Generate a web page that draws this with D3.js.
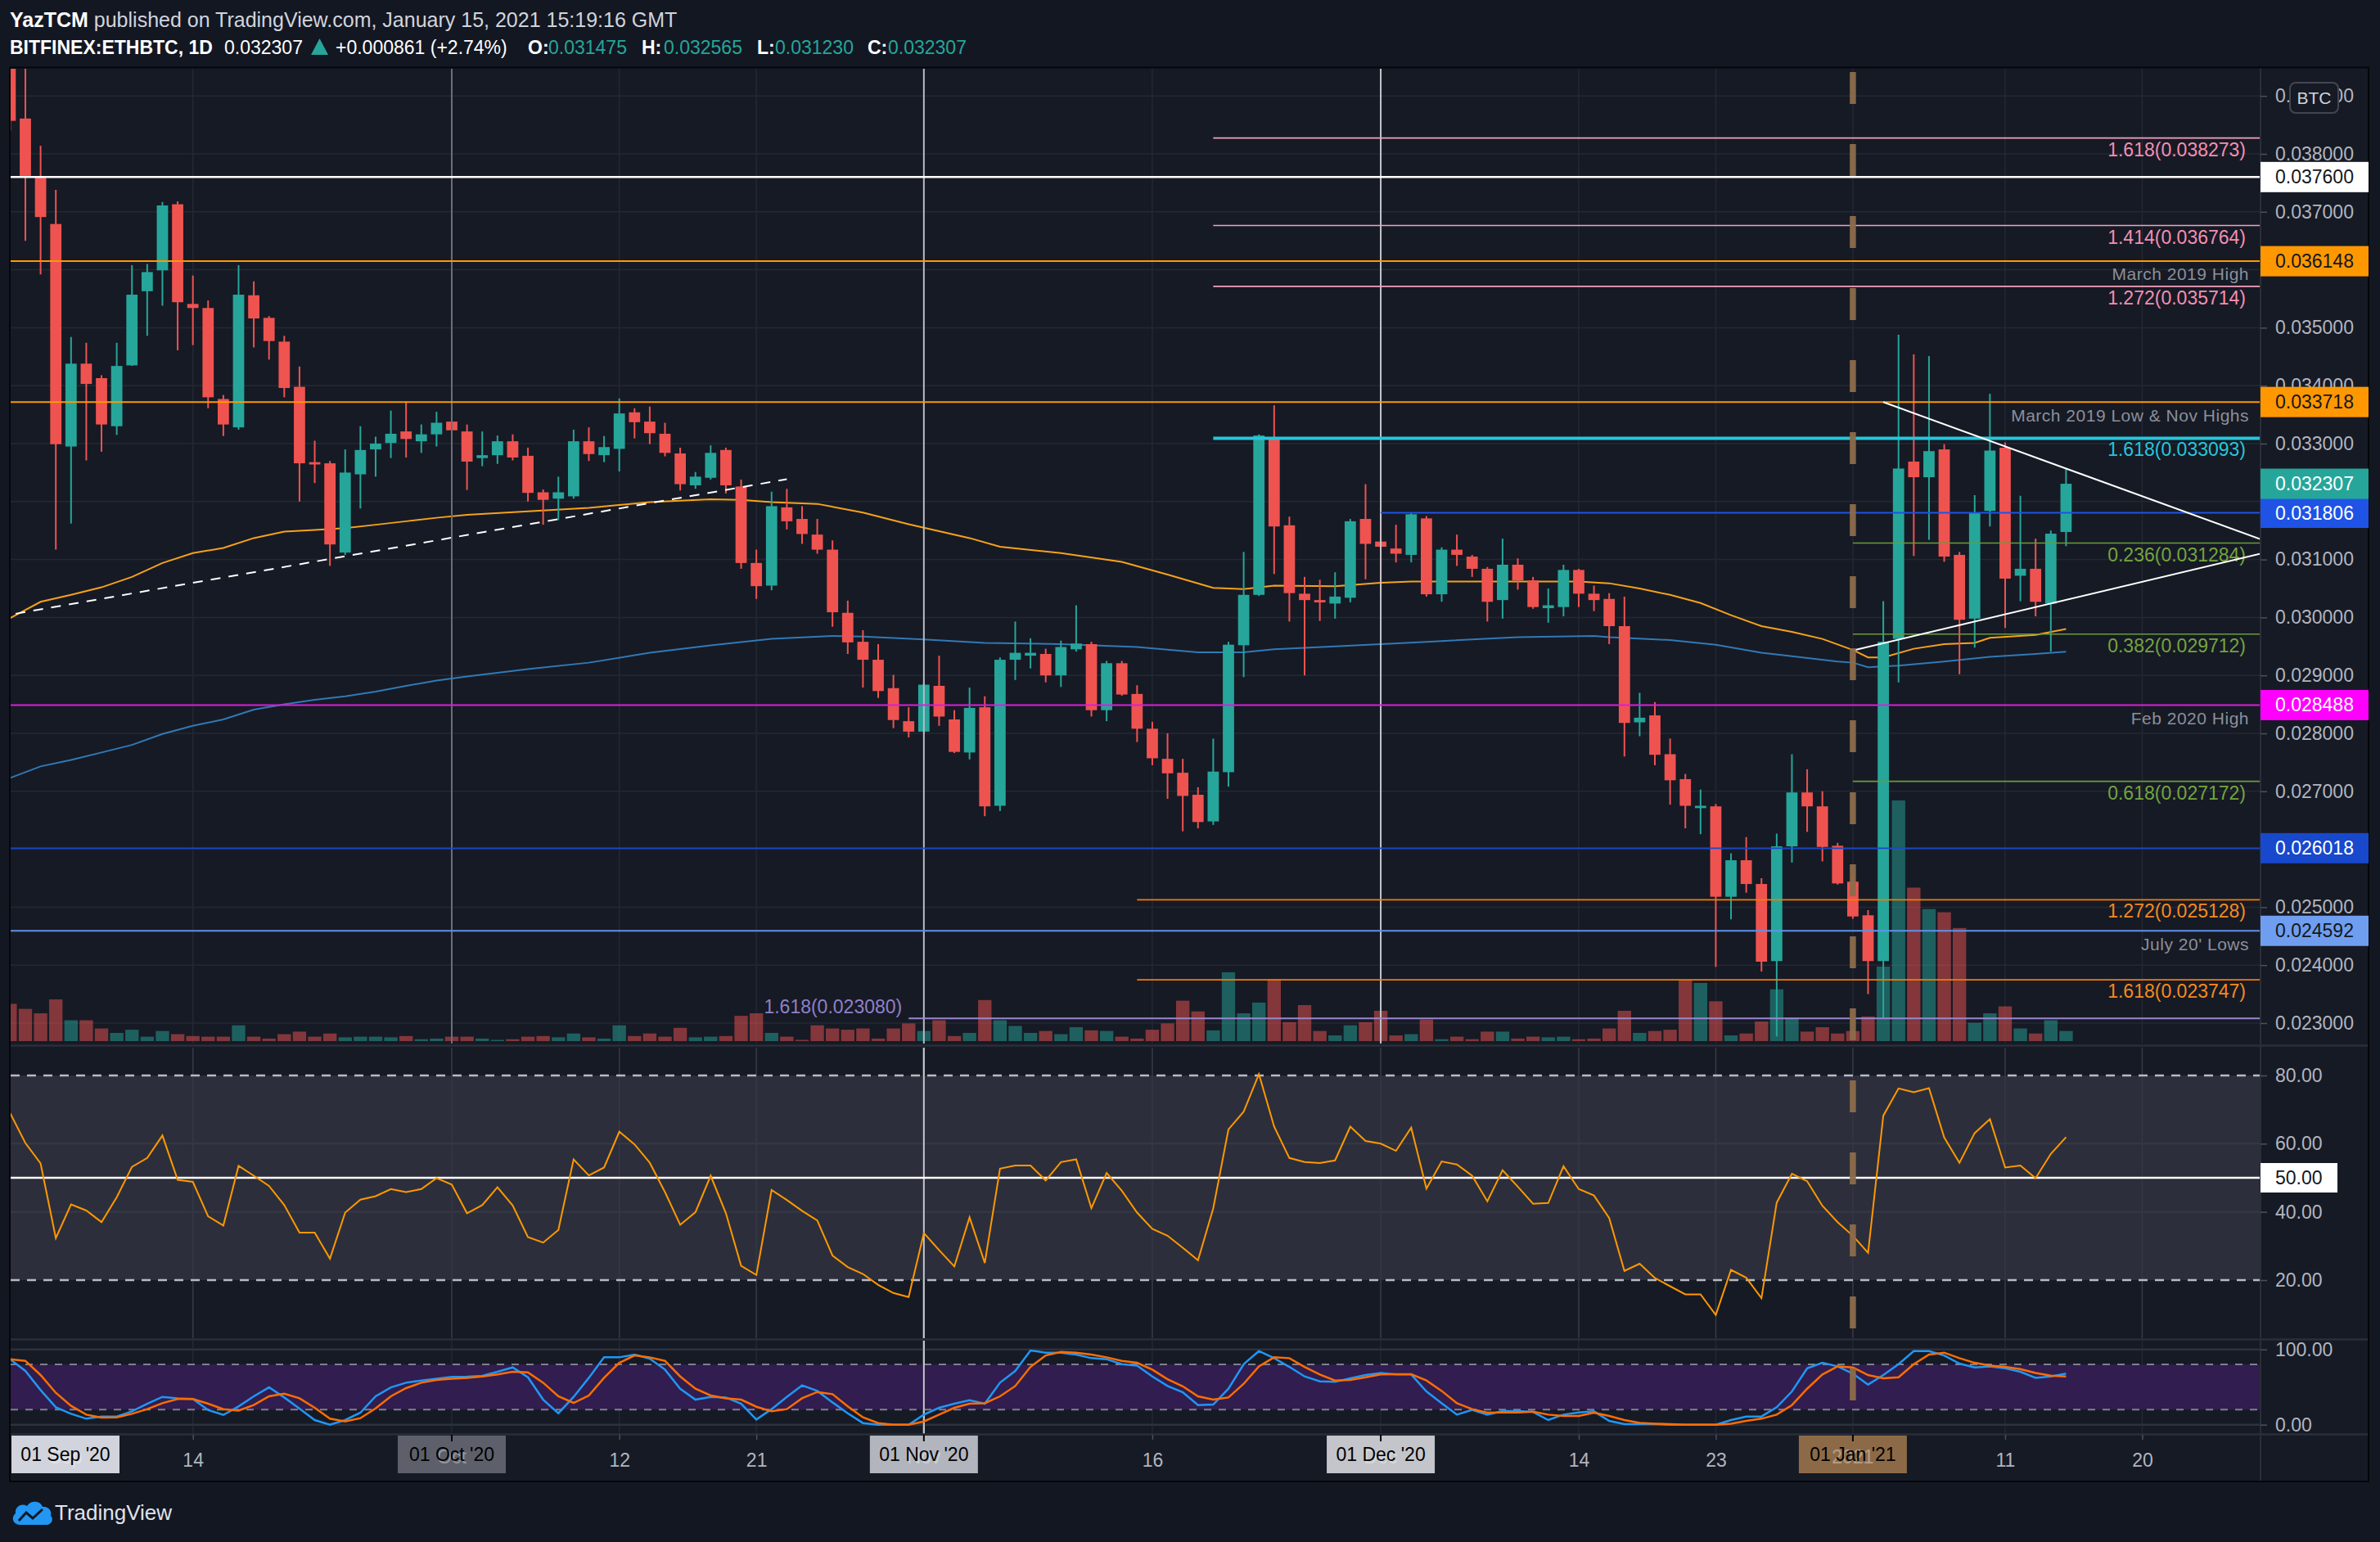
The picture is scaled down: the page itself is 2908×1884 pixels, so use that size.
<!DOCTYPE html>
<html>
<head>
<meta charset="utf-8">
<script src="https://cdn.jsdelivr.net/npm/d3@7/dist/d3.min.js"></script>
<style>
html,body{margin:0;padding:0;background:#131722;overflow:hidden;}
svg{display:block;}
</style>
</head>
<body>
<svg id="chart" width="2908" height="1884" xmlns="http://www.w3.org/2000/svg"></svg>
<script>
// ================= DATA =================
const firstDay = "2020-09-02";
const lastDay  = "2021-01-15";

const opens = [
0.04000,0.03861,0.03759,0.03679,0.03295,0.03438,0.03413,0.03330,0.03435,0.03563,0.03599,0.03713,0.03541,0.03534,0.03377,0.03328,0.03556,0.03517,0.03476,0.03398,0.03268,0.03266,0.03112,0.03247,0.03290,0.03301,0.03321,0.03304,0.03316,
0.03338,0.03321,0.03275,0.03280,0.03304,0.03279,0.03216,0.03205,0.03209,0.03304,0.03280,0.03291,0.03354,0.03338,0.03317,0.03283,0.03228,0.03241,0.03289,0.03226,0.03094,0.03055,0.03190,0.03170,0.03143,0.03117,0.03008,0.02958,0.02927,0.02878,0.02821,
0.02803,0.02882,0.02824,0.02767,0.02845,0.02675,0.02927,0.02934,0.02937,0.02900,0.02945,0.02954,0.02840,0.02921,0.02868,0.02808,0.02756,0.02732,0.02694,0.02648,0.02733,0.02952,0.03039,0.03309,0.03159,0.03041,0.03030,0.03024,0.03034,0.03170,
0.03131,0.03119,0.03108,0.03171,0.03040,0.03117,0.03105,0.03084,0.03030,0.03091,0.03064,0.03016,0.03018,0.03082,0.03041,0.03032,0.02985,0.02819,0.02831,0.02764,0.02721,0.02671,0.02674,0.02518,0.02581,0.02540,0.02407,0.02605,0.02698,0.02674,0.02606,
0.02544,0.02486,0.02407,0.02963,0.03269,0.03242,0.03290,0.03108,0.02998,0.03184,0.03293,0.03072,0.03084,0.03024,0.031475];
const highs = [
0.04040,0.03970,0.03814,0.03738,0.03484,0.03474,0.03418,0.03474,0.03608,0.03610,0.03717,0.03718,0.03590,0.03547,0.03384,0.03608,0.03580,0.03520,0.03486,0.03433,0.03305,0.03270,0.03290,0.03330,0.03312,0.03357,0.03373,0.03333,0.03355,
0.03389,0.03333,0.03321,0.03314,0.03316,0.03293,0.03221,0.03243,0.03324,0.03328,0.03313,0.03378,0.03361,0.03364,0.03336,0.03293,0.03251,0.03297,0.03293,0.03238,0.03117,0.03217,0.03222,0.03192,0.03170,0.03133,0.03029,0.02978,0.02954,0.02901,0.02845,
0.02888,0.02934,0.02840,0.02879,0.02864,0.02931,0.02993,0.02964,0.02946,0.02960,0.03021,0.02958,0.02925,0.02925,0.02883,0.02820,0.02800,0.02756,0.02707,0.02791,0.02958,0.03113,0.03316,0.03366,0.03174,0.03070,0.03065,0.03078,0.03170,0.03230,
0.03180,0.03160,0.03181,0.03175,0.03121,0.03143,0.03108,0.03087,0.03136,0.03102,0.03070,0.03050,0.03091,0.03084,0.03055,0.03042,0.03036,0.02870,0.02854,0.02791,0.02730,0.02703,0.02678,0.02593,0.02621,0.02550,0.02627,0.02764,0.02738,0.02700,0.02611,
0.02555,0.02495,0.03028,0.03488,0.03454,0.03451,0.03299,0.03113,0.03211,0.03386,0.03302,0.03210,0.03136,0.03150,0.032565];
const lows = [
0.03840,0.03650,0.03592,0.03117,0.03162,0.03271,0.03286,0.03315,0.03434,0.03486,0.03538,0.03461,0.03470,0.03361,0.03313,0.03324,0.03466,0.03445,0.03380,0.03200,0.03232,0.03089,0.03108,0.03188,0.03243,0.03275,0.03276,0.03284,0.03295,
0.03299,0.03220,0.03261,0.03265,0.03271,0.03200,0.03160,0.03168,0.03205,0.03270,0.03268,0.03252,0.03309,0.03299,0.03278,0.03219,0.03222,0.03238,0.03214,0.03084,0.03032,0.03047,0.03152,0.03127,0.03110,0.02984,0.02937,0.02879,0.02861,0.02809,0.02793,
0.02800,0.02813,0.02766,0.02755,0.02657,0.02666,0.02892,0.02912,0.02888,0.02880,0.02941,0.02829,0.02821,0.02865,0.02785,0.02745,0.02687,0.02631,0.02636,0.02642,0.02708,0.02897,0.03037,0.03075,0.02993,0.02900,0.02994,0.02998,0.03026,0.03066,
0.03040,0.03095,0.03095,0.03036,0.03027,0.03089,0.03070,0.02993,0.02998,0.03048,0.03015,0.02991,0.03002,0.03018,0.03011,0.02954,0.02760,0.02795,0.02745,0.02677,0.02636,0.02626,0.02397,0.02479,0.02525,0.02389,0.02277,0.02577,0.02630,0.02579,0.02539,
0.02480,0.02350,0.02309,0.02888,0.03106,0.03134,0.03096,0.02902,0.02948,0.03157,0.02982,0.03028,0.03002,0.02941,0.031230];
const closes = [
0.03857,0.03762,0.03691,0.03299,0.03438,0.03403,0.03333,0.03434,0.03557,0.03596,0.03711,0.03544,0.03534,0.03380,0.03333,0.03557,0.03516,0.03477,0.03396,0.03266,0.03264,0.03126,0.03250,0.03289,0.03300,0.03317,0.03308,0.03316,0.03336,
0.03323,0.03269,0.03280,0.03304,0.03276,0.03215,0.03203,0.03216,0.03304,0.03282,0.03294,0.03352,0.03337,0.03318,0.03284,0.03230,0.03243,0.03284,0.03228,0.03094,0.03054,0.03192,0.03166,0.03144,0.03117,0.03009,0.02957,0.02927,0.02873,0.02823,0.02803,
0.02884,0.02829,0.02768,0.02844,0.02674,0.02927,0.02939,0.02939,0.02900,0.02949,0.02955,0.02840,0.02921,0.02867,0.02808,0.02757,0.02731,0.02692,0.02647,0.02734,0.02953,0.03039,0.03314,0.03157,0.03042,0.03030,0.03026,0.03036,0.03166,0.03127,
0.03122,0.03110,0.03178,0.03040,0.03117,0.03108,0.03084,0.03027,0.03091,0.03064,0.03018,0.03021,0.03082,0.03041,0.03030,0.02985,0.02818,0.02827,0.02763,0.02719,0.02675,0.02675,0.02518,0.02581,0.02540,0.02406,0.02605,0.02698,0.02674,0.02604,0.02541,
0.02484,0.02407,0.02958,0.03257,0.03242,0.03287,0.03105,0.02996,0.03180,0.03288,0.03067,0.03084,0.03027,0.031446,0.032307];
// volume (relative units)
const volumes = [
59,51,44,66,33,33,20,13,18,7,16,11,8,7,7,25,7,4,11,15,7,12,6,7,7,6,8,3,4,
7,7,4,2,3,7,8,6,12,6,4,25,8,12,7,21,6,7,8,40,44,13,7,2,25,20,18,20,4,20,28,
16,33,8,13,65,33,24,13,16,11,22,17,16,7,4,18,28,64,47,17,109,44,61,98,30,57,16,9,25,30,
48,9,11,34,3,7,3,15,15,4,7,6,7,3,4,20,48,13,16,18,96,92,63,9,12,31,82,37,15,22,12,
16,39,118,381,243,209,204,179,29,44,55,20,12,33,16];
const rsiValues = [
69.0,60.2,54.2,32.3,42.2,40.4,37.0,44.3,53.2,55.8,62.4,49.4,48.8,38.7,36.0,53.5,50.6,47.6,42.0,33.9,33.9,26.3,39.8,43.6,44.6,46.7,45.8,46.7,49.9,
48.0,39.6,42.0,47.2,41.9,32.6,31.0,34.7,55.4,50.7,53.0,63.5,59.8,54.4,45.8,36.2,39.9,50.6,39.6,24.2,21.5,46.4,43.5,40.3,37.5,27.2,23.8,21.8,18.6,16.2,15.0,
33.8,28.8,24.0,38.4,25.0,52.7,53.6,53.6,49.2,54.6,55.4,41.1,51.4,46.2,39.8,35.0,33.0,29.5,25.8,41.0,64.2,69.4,80.4,65.0,55.8,54.6,54.3,55.1,65.0,60.8,
60.0,57.9,64.7,46.8,54.8,53.9,50.6,43.1,52.2,47.4,42.4,42.6,53.4,46.7,44.8,38.2,22.7,24.8,20.6,18.2,15.8,15.8,9.8,23.0,20.7,14.7,42.7,51.2,49.0,41.8,37.0,
33.0,28.0,68.2,76.2,75.1,76.3,61.8,54.4,63.1,67.2,53.0,53.6,49.9,57.0,61.9];
const stochK = [
87,71.4,46,23.2,14.5,8,10.9,10.9,17.8,27.9,37,35.1,34.1,19.6,13,24.3,37.7,49.6,36.2,21.4,6.2,0,6.2,16,37.7,49.6,55.8,58.7,61.2,
63.4,63.8,64.9,70.3,76.1,63,33.3,15.2,37,62.3,89.5,89.5,93.1,87.7,73.2,47.8,33.3,37,36.2,27.9,6.9,20.7,37,52.2,44.9,29.7,15.2,2.2,0,0,0,
13.4,22.5,27.9,32.6,27.9,55.8,71.4,98.6,95.7,95.7,93.1,88.4,87,80.4,78.6,64.1,51.4,43,26.1,26.8,47.8,80.4,97.8,88.4,76.8,64.1,57.6,56.9,61.6,65.9,
68.8,66.7,66.7,44.2,28.6,13.4,19.6,13.4,18.1,18.1,17,6.2,13.4,16.3,17.8,5.1,0.7,0.7,0.7,0,0,0,0,6.2,10.9,10.9,23.2,44.2,75,82.2,77.5,
67.8,53.3,65.9,80.4,97.8,97.8,92,81.2,76.1,77.5,75,70.3,62.3,64.1,67.8];
const stochD = [
87,84.8,66,42.4,25,13.4,9.4,9.8,14.5,20.7,28.6,34.1,34.1,27.9,20.7,18.8,26.1,37.7,41.3,35.1,22.5,8,4.3,8.7,21.7,37.7,48.6,55.8,59.4,
61.2,62.3,64.1,66.7,70.3,69.6,55.8,37.7,29,38.8,62.3,82.2,92,89.5,84.8,64.1,47.8,38.8,35.1,33.3,23.9,17.8,20.7,35.1,43.5,40.6,24.3,9.8,2.2,0,0,
4.3,13.4,22.5,27.9,28.6,37.7,51.4,76.8,92,96.7,95.7,93.1,89.5,84.8,82.2,73.2,60.5,51,37.7,33.3,36.2,54.3,77.5,89.5,88.4,76.8,66.7,58.7,59.4,63,
66.7,67,67,58.7,44.9,28.6,20.7,15.9,16.3,16.3,17.4,13.4,11.6,11.6,15.9,11.6,6.2,2.5,1.4,0.7,0,0,0,1.4,5.1,8,13.4,26.1,47.8,66.7,77.5,
76.1,65.9,61.6,63,80.4,93.1,95.7,88.4,82.2,78.6,76.8,73.9,68.8,65.2,64.1];

// moving averages (sampled points)
const maFastDates = ["2020-09-02","2020-09-04","2020-09-06","2020-09-08","2020-09-10","2020-09-12","2020-09-14","2020-09-16","2020-09-18","2020-09-20","2020-09-22","2020-09-24","2020-09-26","2020-09-28","2020-09-30","2020-10-02","2020-10-06","2020-10-10","2020-10-14","2020-10-18","2020-10-20","2020-10-22","2020-10-25","2020-10-28","2020-10-31","2020-11-01","2020-11-04","2020-11-06","2020-11-10","2020-11-14","2020-11-17","2020-11-20","2020-11-22","2020-11-24","2020-11-28","2020-12-01","2020-12-03","2020-12-06","2020-12-10","2020-12-14","2020-12-16","2020-12-18","2020-12-20","2020-12-22","2020-12-24","2020-12-26","2020-12-28","2020-12-30","2021-01-01","2021-01-02","2021-01-03","2021-01-05","2021-01-07","2021-01-09","2021-01-10","2021-01-13","2021-01-15"];
const maFastValues = [0.02999,0.03027,0.03039,0.03052,0.03070,0.03094,0.03111,0.03120,0.03137,0.03148,0.03151,0.03154,0.03160,0.03166,0.03172,0.03177,0.03183,0.03189,0.03199,0.03204,0.03203,0.03199,0.03196,0.03181,0.03161,0.03155,0.03137,0.03122,0.03111,0.03096,0.03074,0.03051,0.03049,0.03055,0.03054,0.03060,0.03062,0.03062,0.03062,0.03062,0.03059,0.03050,0.03039,0.03025,0.03004,0.02985,0.02975,0.02963,0.02944,0.02931,0.02931,0.02946,0.02954,0.02956,0.02965,0.02970,0.02980];
const maSlowDates = ["2020-09-02","2020-09-04","2020-09-06","2020-09-08","2020-09-10","2020-09-12","2020-09-14","2020-09-16","2020-09-18","2020-09-20","2020-09-22","2020-09-24","2020-09-26","2020-09-28","2020-09-30","2020-10-02","2020-10-06","2020-10-10","2020-10-14","2020-10-18","2020-10-22","2020-10-26","2020-10-28","2020-11-01","2020-11-05","2020-11-10","2020-11-15","2020-11-19","2020-11-22","2020-11-24","2020-11-28","2020-12-01","2020-12-04","2020-12-10","2020-12-15","2020-12-16","2020-12-20","2020-12-23","2020-12-26","2020-12-28","2020-12-31","2021-01-01","2021-01-02","2021-01-04","2021-01-07","2021-01-10","2021-01-13","2021-01-15"];
const maSlowValues = [0.02723,0.02743,0.02754,0.02767,0.02780,0.02799,0.02813,0.02824,0.02841,0.02850,0.02858,0.02864,0.02872,0.02882,0.02891,0.02898,0.02911,0.02922,0.02939,0.02952,0.02963,0.02968,0.02967,0.02962,0.02956,0.02954,0.02949,0.02940,0.02940,0.02945,0.02950,0.02954,0.02958,0.02966,0.02968,0.02966,0.02961,0.02953,0.02939,0.02933,0.02924,0.02922,0.02914,0.02917,0.02924,0.02932,0.02937,0.02941];

// horizontal levels
const levelValues = [0.037600, 0.036148, 0.033718, 0.031806, 0.028488, 0.026018, 0.024592];
const levelNotes  = ["", "March 2019 High", "March 2019 Low & Nov Highs", "", "Feb 2020 High", "", "July 20' Lows"];
const levelStarts = [null, null, null, "2020-12-01", null, null, null];
// fibonacci levels
const fibRatios = ["1.618","1.414","1.272","1.618","0.236","0.382","0.618","1.272","1.618","1.618"];
const fibValues = [0.038273,0.036764,0.035714,0.033093,0.031284,0.029712,0.027172,0.025128,0.023747,0.023080];
const fibStarts = ["2020-11-20","2020-11-20","2020-11-20","2020-11-20","2021-01-01","2021-01-01","2021-01-01","2020-11-15","2020-11-15","2020-10-31"];
// trend lines [date, price]
const supportDashed = [["2020-09-02T08:40:00Z",0.030064],["2020-10-23T00:00:00Z",0.032385]];
const triangleUpper = [["2021-01-03T00:00:00Z",0.033716],["2021-01-27T18:30:00Z",0.031350]];
const triangleLower = [["2021-01-01T00:00:00Z",0.029431],["2021-01-27T18:30:00Z",0.031100]];

// axes
const priceTicks = [0.023,0.024,0.025,0.026,0.027,0.028,0.029,0.030,0.031,0.032,0.033,0.034,0.035,0.036,0.037,0.038,0.039];
const rsiTicks = [20,40,60,80];
const stochTicks = [0,100];
const timeTickDates  = ["2020-09-14","2020-10-12","2020-10-21","2020-11-16","2020-12-14","2020-12-23","2021-01-11","2021-01-20"];
const timeTickLabels = ["14","12","21","16","14","23","11","20"];
const markerDates  = ["2020-09-01","2020-10-01","2020-11-01","2020-12-01","2021-01-01"];
const markerLabels = ["01 Sep '20","01 Oct '20","01 Nov '20","01 Dec '20","01 Jan '21"];
const markerGhosts = ["Sep","Oct","Nov","Dec","2021"];

// ================= DRAW =================
const FONT = '"Liberation Sans", Arial, sans-serif';
const svg = d3.select("#chart");
const parse = d3.utcParse("%Y-%m-%d");
const dates = d3.utcDay.range(parse(firstDay), d3.utcDay.offset(parse(lastDay), 1));

const L = 13, AX = 2762, R = 2894;
const P_TOP = 84, P_BOT = 1275, R_TOP = 1280, R_BOT = 1635, S_TOP = 1638, S_BOT = 1752, T_BOT = 1810;

const x  = d3.scaleUtc().domain([parse("2020-10-01"), parse("2021-01-01")]).range([552, 2263.9]);
const yP = d3.scaleLinear().domain([0.023, 0.038]).range([1250, 188]);
const yV = d3.scaleLinear().domain([0, 400]).range([1272, 963.3]);
const yR = d3.scaleLinear().domain([20, 80]).range([1564, 1314]);
const yS = d3.scaleLinear().domain([0, 100]).range([1740.7, 1648.7]);

const UP = "#26a69a", DN = "#ef5350";

svg.append("rect").attr("width",2908).attr("height",1884).attr("fill","#131722");
svg.append("rect").attr("x",L).attr("y",83).attr("width",R-L).attr("height",T_BOT-83).attr("fill","#161a25");

const defs = svg.append("defs");
function clip(id, y0, y1){ defs.append("clipPath").attr("id",id).append("rect").attr("x",L).attr("y",y0).attr("width",AX-L).attr("height",y1-y0); }
clip("cp", P_TOP, P_BOT); clip("cr", R_TOP, R_BOT); clip("cs", S_TOP, S_BOT);

const gP = svg.append("g").attr("clip-path","url(#cp)");
const gR = svg.append("g").attr("clip-path","url(#cr)");
const gS = svg.append("g").attr("clip-path","url(#cs)");

// ---- grids ----
const GRID = "#242833";
gP.selectAll(".hg").data(priceTicks).join("line").attr("x1",L).attr("x2",AX)
  .attr("y1",d=>yP(d)).attr("y2",d=>yP(d)).attr("stroke",GRID).attr("stroke-width",1.5);
const vGridDates = timeTickDates.concat(markerDates).map(parse);
[[gP,P_TOP,P_BOT],[gR,R_TOP,R_BOT],[gS,S_TOP,S_BOT]].forEach(([g,a,b])=>{
  g.selectAll(".vg").data(vGridDates).join("line").attr("x1",d=>x(d)).attr("x2",d=>x(d))
   .attr("y1",a).attr("y2",b).attr("stroke",GRID).attr("stroke-width",1.5);
});

// ---- volume ----
const step = x(parse("2020-10-02")) - x(parse("2020-10-01"));
const volW = step*0.88, bodyW = step*0.74;
gP.selectAll(".vol").data(dates).join("rect")
  .attr("x",d=>x(d)-volW/2).attr("width",volW)
  .attr("y",(d,i)=>yV(volumes[i])).attr("height",(d,i)=>yV(0)-yV(volumes[i]))
  .attr("fill",(d,i)=>closes[i]>=opens[i]?"rgba(38,166,154,0.5)":"rgba(239,83,80,0.5)");

// ---- moving averages ----
const maLine = d3.line().x(d=>x(d[0])).y(d=>yP(d[1]));
gP.append("path").datum(maSlowDates.map((d,i)=>[parse(d),maSlowValues[i]])).attr("d",maLine)
  .attr("fill","none").attr("stroke","#3179b5").attr("stroke-width",2);
gP.append("path").datum(maFastDates.map((d,i)=>[parse(d),maFastValues[i]])).attr("d",maLine)
  .attr("fill","none").attr("stroke","#f7a21b").attr("stroke-width",2);

// ---- candles ----
const cg = gP.selectAll(".c").data(dates).join("g");
cg.append("line").attr("x1",d=>x(d)).attr("x2",d=>x(d))
  .attr("y1",(d,i)=>yP(highs[i])).attr("y2",(d,i)=>yP(lows[i]))
  .attr("stroke",(d,i)=>closes[i]>=opens[i]?UP:DN).attr("stroke-width",2);
cg.append("rect").attr("x",d=>x(d)-bodyW/2).attr("width",bodyW)
  .attr("y",(d,i)=>yP(Math.max(opens[i],closes[i])))
  .attr("height",(d,i)=>Math.max(2.5, Math.abs(yP(opens[i])-yP(closes[i]))))
  .attr("fill",(d,i)=>closes[i]>=opens[i]?UP:DN);

// ---- vertical marker lines (price pane) ----
const vStyles = {"2020-10-01":"#6b6e79","2020-12-01":"#c4c6cc"};
Object.keys(vStyles).forEach(k=>{
  gP.append("line").attr("x1",x(parse(k))).attr("x2",x(parse(k))).attr("y1",P_TOP).attr("y2",P_BOT)
    .attr("stroke",vStyles[k]).attr("stroke-width",2);
});
[[gP,P_TOP,P_BOT],[gR,R_TOP,R_BOT],[gS,S_TOP,S_BOT]].forEach(([g,a,b])=>{
  g.append("line").attr("x1",x(parse("2020-11-01"))).attr("x2",x(parse("2020-11-01")))
   .attr("y1",a).attr("y2",b).attr("stroke","#b8bbc3").attr("stroke-width",2);
});

// ---- horizontal levels ----
const levelStyle = [
 {s:"#ffffff", w:2.5, bg:"#ffffff", fg:"#131722"},
 {s:"#ff9800", w:2,   bg:"#ff9800", fg:"#131722"},
 {s:"#ff9800", w:2,   bg:"#ff9800", fg:"#131722"},
 {s:"#1e53e5", w:2,   bg:"#1e53e5", fg:"#ffffff"},
 {s:"#d81fd8", w:2,   bg:"#ff00ff", fg:"#ffffff"},
 {s:"#1848cc", w:1.6, bg:"#1848cc", fg:"#ffffff"},
 {s:"#5f92ea", w:2,   bg:"#6f9ef0", fg:"#131722"}
];
const fibStyle = [
 {s:"#f4a3be", t:"#f48fb1", w:1.6},{s:"#f4a3be", t:"#f48fb1", w:1.6},{s:"#f4a3be", t:"#f48fb1", w:1.6},
 {s:"#26c6da", t:"#26c6da", w:4},
 {s:"#6a9b3a", t:"#74a43f", w:1.6},{s:"#6a9b3a", t:"#74a43f", w:1.6},{s:"#6a9b3a", t:"#74a43f", w:1.6},
 {s:"#f57c00", t:"#f58a1f", w:1.8},{s:"#f57c00", t:"#f58a1f", w:1.8},
 {s:"#9a86d0", t:"#9080c8", w:2}
];
const gL = svg.append("g").attr("clip-path","url(#cp)").attr("font-family",FONT);
fibValues.forEach((v,i)=>{
  const st = fibStyle[i], y = yP(v), x0 = x(parse(fibStarts[i]));
  gL.append("line").attr("x1",x0).attr("x2",AX).attr("y1",y).attr("y2",y)
    .attr("stroke",st.s).attr("stroke-width",st.w);
  const lbl = fibRatios[i]+"("+d3.format(".6f")(v)+")";
  if (i===9) {
    gL.append("text").attr("x",x0-8).attr("y",y-14).attr("dy","0.35em").attr("text-anchor","end")
      .attr("font-size",23).attr("fill",st.t).text(lbl);
  } else {
    gL.append("text").attr("x",2744).attr("y",y+14).attr("dy","0.35em").attr("text-anchor","end")
      .attr("font-size",23).attr("fill",st.t).text(lbl);
  }
});
levelValues.forEach((v,i)=>{
  const st = levelStyle[i], y = yP(v), x0 = levelStarts[i] ? x(parse(levelStarts[i])) : L;
  gL.append("line").attr("x1",x0).attr("x2",AX).attr("y1",y).attr("y2",y)
    .attr("stroke",st.s).attr("stroke-width",st.w);
  if (levelNotes[i]) {
    gL.append("text").attr("x",2748).attr("y",y+16).attr("dy","0.35em").attr("text-anchor","end")
      .attr("font-size",21).attr("fill","#8c8f99").attr("letter-spacing",0.5).text(levelNotes[i]);
  }
});

// ---- trend lines ----
const tl = d3.line().x(d=>x(d3.isoParse(d[0]))).y(d=>yP(d[1]));
gL.append("path").datum(supportDashed).attr("d",tl).attr("stroke","#ffffff").attr("stroke-width",2)
  .attr("stroke-dasharray","12 10").attr("fill","none");
[triangleUpper, triangleLower].forEach(t=>{
  gL.append("path").datum(t).attr("d",tl).attr("stroke","#ffffff").attr("stroke-width",2).attr("fill","none");
});

// ---- RSI pane ----
gR.append("rect").attr("x",L).attr("width",AX-L).attr("y",yR(80)).attr("height",yR(20)-yR(80)).attr("fill","#2c2f3b");
[40,60].forEach(v=>gR.append("line").attr("x1",L).attr("x2",AX).attr("y1",yR(v)).attr("y2",yR(v))
   .attr("stroke","#363945").attr("stroke-width",2));
gR.selectAll(".vg2").data(vGridDates).join("line").attr("x1",d=>x(d)).attr("x2",d=>x(d))
   .attr("y1",R_TOP).attr("y2",R_BOT).attr("stroke","#353845").attr("stroke-width",1.5);
gR.append("line").attr("x1",x(parse("2020-11-01"))).attr("x2",x(parse("2020-11-01")))
   .attr("y1",R_TOP).attr("y2",R_BOT).attr("stroke","#c4c6cc").attr("stroke-width",2);
[80,20].forEach(v=>gR.append("line").attr("x1",L).attr("x2",AX).attr("y1",yR(v)).attr("y2",yR(v))
   .attr("stroke","#b8bbc3").attr("stroke-width",2.5).attr("stroke-dasharray","11 9"));
gR.append("line").attr("x1",L).attr("x2",AX).attr("y1",yR(50)).attr("y2",yR(50)).attr("stroke","#ffffff").attr("stroke-width",2.5);
gR.append("path").datum(rsiValues).attr("fill","none").attr("stroke","#ff9800").attr("stroke-width",2)
  .attr("d", d3.line().x((d,i)=>x(dates[i])).y(d=>yR(d)));

// ---- Stoch RSI pane ----
gS.append("rect").attr("x",L).attr("width",AX-L).attr("y",yS(80)).attr("height",yS(20)-yS(80)).attr("fill","#311d4f");
[0,100].forEach(v=>gS.append("line").attr("x1",L).attr("x2",AX).attr("y1",yS(v)).attr("y2",yS(v))
   .attr("stroke","#2d313c").attr("stroke-width",2.5));
[80,20].forEach(v=>gS.append("line").attr("x1",L).attr("x2",AX).attr("y1",yS(v)).attr("y2",yS(v))
   .attr("stroke","#7f818c").attr("stroke-width",2).attr("stroke-dasharray","9 9"));
gS.append("line").attr("x1",x(parse("2020-11-01"))).attr("x2",x(parse("2020-11-01")))
   .attr("y1",S_TOP).attr("y2",S_BOT).attr("stroke","#c4c6cc").attr("stroke-width",2);
const sl = d3.line().x((d,i)=>x(dates[i])).y(d=>yS(d));
gS.append("path").datum(stochK).attr("d",sl).attr("fill","none").attr("stroke","#2196f3").attr("stroke-width",2.5);
gS.append("path").datum(stochD).attr("d",sl).attr("fill","none").attr("stroke","#ff6d00").attr("stroke-width",2.5);

// ---- Jan 1 dashed marker ----
svg.append("line").attr("x1",x(parse("2021-01-01"))).attr("x2",x(parse("2021-01-01")))
  .attr("y1",88).attr("y2",S_BOT).attr("stroke","#8d6c4b").attr("stroke-width",7.5)
  .attr("stroke-dasharray","39 49").attr("opacity",0.95);

// ---- pane separators & frame ----
const SEP = "#2a2e39";
[[1277.5],[1636.5],[S_BOT+0.5]].forEach(([y])=>svg.append("line").attr("x1",L).attr("x2",R).attr("y1",y).attr("y2",y).attr("stroke",SEP).attr("stroke-width",2.5));
svg.append("line").attr("x1",AX).attr("x2",AX).attr("y1",83).attr("y2",T_BOT).attr("stroke",SEP).attr("stroke-width",2);
svg.append("rect").attr("x",12).attr("y",82.5).attr("width",R-12).attr("height",T_BOT-82.5)
  .attr("fill","none").attr("stroke","#050608").attr("stroke-width",2);

// ---- right axes ----
function styleAxis(g){
  g.attr("font-family",FONT).attr("font-size",23);
  g.select(".domain").remove();
  g.selectAll(".tick line").attr("stroke","#4c505b").attr("stroke-width",1.5);
  g.selectAll(".tick text").attr("fill","#b2b5be");
}
svg.append("g").attr("transform",`translate(${AX},0)`)
  .call(d3.axisRight(yP).tickValues(priceTicks).tickFormat(d3.format(".6f")).tickSize(8).tickPadding(10)).call(styleAxis);
svg.append("g").attr("transform",`translate(${AX},0)`)
  .call(d3.axisRight(yR).tickValues(rsiTicks).tickFormat(d3.format(".2f")).tickSize(8).tickPadding(10)).call(styleAxis);
svg.append("g").attr("transform",`translate(${AX},0)`)
  .call(d3.axisRight(yS).tickValues(stochTicks).tickFormat(d3.format(".2f")).tickSize(8).tickPadding(10)).call(styleAxis);

// price tags
const tagG = svg.append("g").attr("font-family",FONT).attr("font-size",23);
function tag(v, bg, fg, w){
  const y = yP(v);
  tagG.append("rect").attr("x",AX).attr("y",y-18.5).attr("width",w||(R-AX)).attr("height",37).attr("fill",bg);
  tagG.append("text").attr("x",AX+18).attr("y",y).attr("dy","0.35em").attr("fill",fg).text(d3.format(".6f")(v));
}
levelValues.forEach((v,i)=>tag(v, levelStyle[i].bg, levelStyle[i].fg));
tag(closes[closes.length-1], UP, "#ffffff");
// RSI 50 tag
tagG.append("rect").attr("x",AX).attr("y",yR(50)-18).attr("width",94).attr("height",36).attr("fill","#ffffff");
tagG.append("text").attr("x",AX+18).attr("y",yR(50)).attr("dy","0.35em").attr("fill","#131722").text(d3.format(".2f")(50));
// BTC button
tagG.append("rect").attr("x",2798).attr("y",101).attr("width",59).attr("height",37).attr("rx",7)
  .attr("fill","#161a25").attr("stroke","#434651").attr("stroke-width",2);
tagG.append("text").attr("x",2827.5).attr("y",119.5).attr("dy","0.35em").attr("text-anchor","middle")
  .attr("font-size",21).attr("fill","#d1d4dc").text("BTC");

// ---- time axis ----
const gT = svg.append("g").attr("transform",`translate(0,${S_BOT+1})`)
  .call(d3.axisBottom(x).tickValues(timeTickDates.map(parse)).tickFormat((d,i)=>timeTickLabels[i]).tickSize(6).tickPadding(17));
gT.attr("font-family",FONT).attr("font-size",23);
gT.select(".domain").remove();
gT.selectAll(".tick line").attr("stroke","#4c505b").attr("stroke-width",1.5);
gT.selectAll(".tick text").attr("fill","#b2b5be");

const boxFill = ["#d1d4dc","#5d606b","#b2b5be","#c3c5ca","#8d6a47"];
const mg = svg.append("g").attr("font-family",FONT).attr("font-size",23);
markerDates.forEach((d,i)=>{
  const cx = x(parse(d)), w = 132;
  const bx = Math.max(14, cx - w/2);
  mg.append("rect").attr("x",bx).attr("y",S_BOT+2).attr("width",w).attr("height",46).attr("fill",boxFill[i]);
  mg.append("text").attr("x",bx+w/2).attr("y",S_BOT+28).attr("dy","0.35em").attr("text-anchor","middle")
    .attr("fill","#ffffff").attr("opacity",0.35).text(markerGhosts[i]);
  mg.append("text").attr("x",bx+w/2).attr("y",S_BOT+25).attr("dy","0.35em").attr("text-anchor","middle")
    .attr("fill","#000000").text(markerLabels[i]);
  if (cx > 14) mg.append("line").attr("x1",cx).attr("x2",cx).attr("y1",S_BOT+1).attr("y2",S_BOT+9).attr("stroke","#000").attr("stroke-width",2);
});

// ---- header ----
const hg = svg.append("g").attr("font-family",FONT);
const h1 = hg.append("text").attr("x",12).attr("y",33).attr("font-size",25).attr("fill","#d1d4dc");
h1.append("tspan").attr("font-weight","bold").attr("fill","#ffffff").text("YazTCM");
h1.append("tspan").text(" published on TradingView.com, January 15, 2021 15:19:16 GMT");
const n = closes.length-1;
const chg = closes[n]-closes[n-1];
const f6 = d3.format(".6f");
const seg = [
  [12,"BITFINEX:ETHBTC, 1D",true,"#ffffff"],
  [274,f6(closes[n]),false,"#ffffff"],
  [410,"+"+f6(chg)+" (+"+d3.format(".2f")(chg/closes[n-1]*100)+"%)",false,"#ffffff"],
  [645,"O:",true,"#ffffff"],[670,f6(opens[n]),false,UP],
  [784,"H:",true,"#ffffff"],[811,f6(highs[n]),false,UP],
  [925,"L:",true,"#ffffff"],[947,f6(lows[n]),false,UP],
  [1060,"C:",true,"#ffffff"],[1085,f6(closes[n]),false,UP]
];
seg.forEach(s=>hg.append("text").attr("x",s[0]).attr("y",66).attr("font-size",23)
  .attr("font-weight",s[2]?"bold":"normal").attr("fill",s[3]).text(s[1]));
hg.append("path").attr("d","M380,67 L390.5,47 L401,67 Z").attr("fill",UP);

// ---- logo ----
const lg = svg.append("g").attr("transform","translate(12,1833)");
lg.append("path").attr("d","M13,30 C4,30 1,21 7,16 C6,8 14,3 21,7 C25,0 37,0 40,8 C47,7 52,13 50,19 C54,23 51,30 45,30 Z").attr("fill","#2196f3");
lg.append("path").attr("d","M11,25 L20,15 L28,22 L40,11").attr("fill","none").attr("stroke","#131722").attr("stroke-width",3);
svg.append("text").attr("x",67).attr("y",1857).attr("font-family",FONT).attr("font-size",26).attr("fill","#e0e3eb").text("TradingView");
</script>
</body>
</html>
